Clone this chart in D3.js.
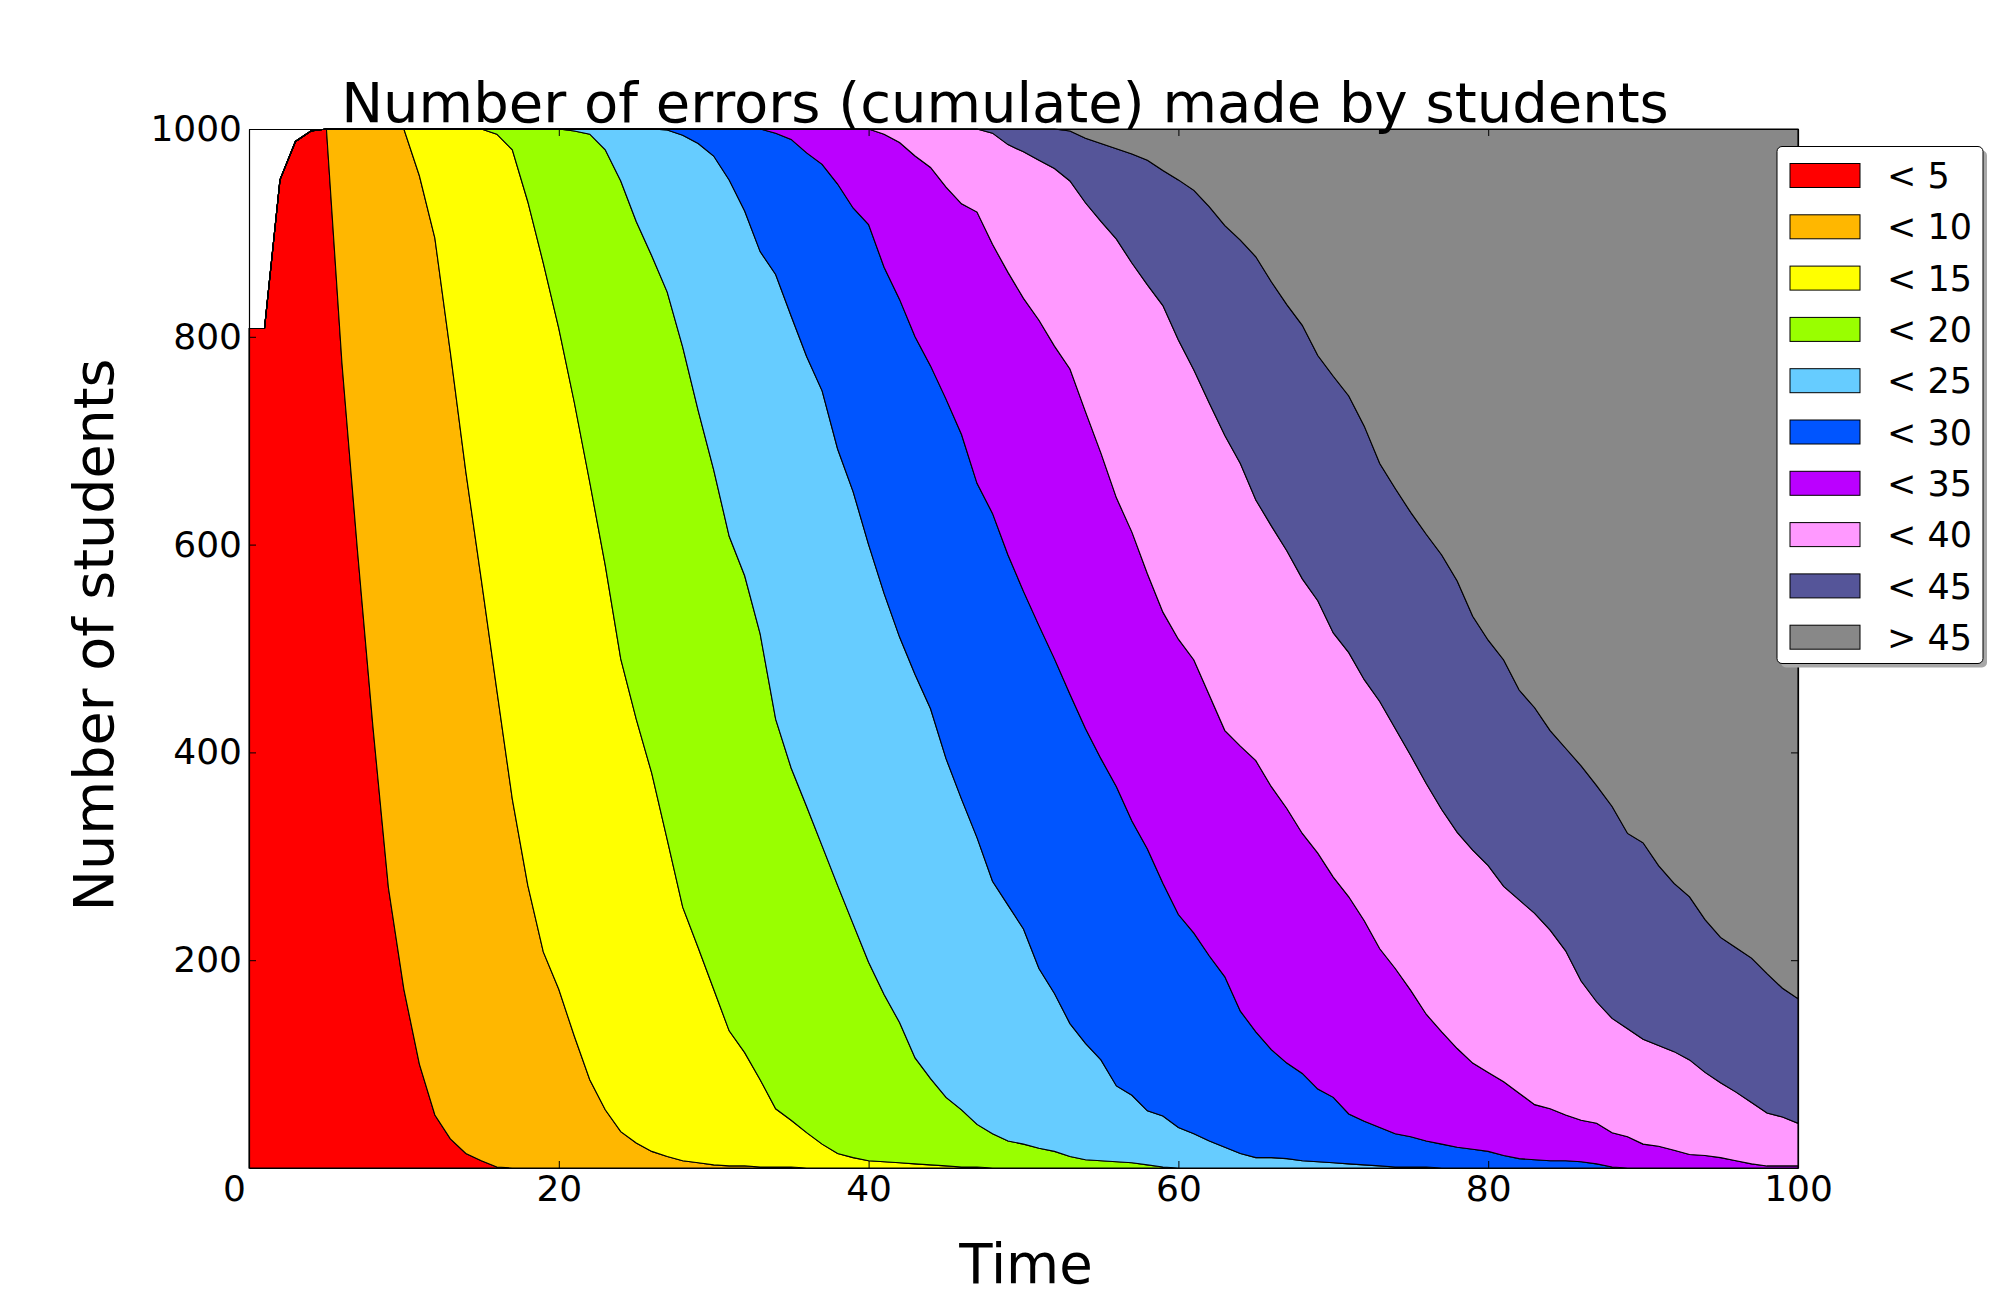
<!DOCTYPE html>
<html><head><meta charset="utf-8">
<script src="https://cdn.jsdelivr.net/npm/d3@7"></script>
<style>
body{margin:0;background:#fff;}
svg{display:block;font-family:"DejaVu Sans",sans-serif;}
</style>
</head><body>
<svg id="chart" width="2000" height="1300"></svg>
<script>
// ---------- DATA ----------
// time steps 0..100
const time = d3.range(0, 101);

const seriesLabels = ["< 5", "< 10", "< 15", "< 20", "< 25", "< 30", "< 35", "< 40", "< 45", "> 45"];
const seriesColors = ["#ff0000", "#ffb700", "#ffff00", "#99ff00", "#66ccff", "#0055ff", "#bb00ff", "#ff99ff", "#555599", "#888888"];

const xTicks = [0, 20, 40, 60, 80, 100];
const yTicks = [200, 400, 600, 800, 1000];

// total number of students observed at each time
const allStudents = [
 808,808,951,988,998,1000,1000,1000,1000,1000,
 1000,1000,1000,1000,1000,1000,1000,1000,1000,1000,
 1000,1000,1000,1000,1000,1000,1000,1000,1000,1000,
 1000,1000,1000,1000,1000,1000,1000,1000,1000,1000,
 1000,1000,1000,1000,1000,1000,1000,1000,1000,1000,
 1000,1000,1000,1000,1000,1000,1000,1000,1000,1000,
 1000,1000,1000,1000,1000,1000,1000,1000,1000,1000,
 1000,1000,1000,1000,1000,1000,1000,1000,1000,1000,
 1000,1000,1000,1000,1000,1000,1000,1000,1000,1000,
 1000,1000,1000,1000,1000,1000,1000,1000,1000,1000,
 1000];

// cumulative number of students with fewer than N errors
const lessThan5 = [
 808,808,951,988,998,1000,775,595,425,270,
 172,100,51,28,14,7,1,0,0,0,
 0,0,0,0,0,0,0,0,0,0,
 0,0,0,0,0,0,0,0,0,0,
 0,0,0,0,0,0,0,0,0,0,
 0,0,0,0,0,0,0,0,0,0,
 0,0,0,0,0,0,0,0,0,0,
 0,0,0,0,0,0,0,0,0,0,
 0,0,0,0,0,0,0,0,0,0,
 0,0,0,0,0,0,0,0,0,0,
 0];

const lessThan10 = [
 808,808,951,988,998,1000,1000,1000,1000,1000,
 1000,955,895,785,670,566,460,355,272,208,
 172,127,85,56,35,24,16,11,7,5,
 3,2,2,1,1,1,0,0,0,0,
 0,0,0,0,0,0,0,0,0,0,
 0,0,0,0,0,0,0,0,0,0,
 0,0,0,0,0,0,0,0,0,0,
 0,0,0,0,0,0,0,0,0,0,
 0,0,0,0,0,0,0,0,0,0,
 0,0,0,0,0,0,0,0,0,0,
 0];

const lessThan15 = [
 808,808,951,988,998,1000,1000,1000,1000,1000,
 1000,1000,1000,1000,1000,1000,995,980,930,871,
 808,737,660,580,490,432,380,316,251,212,
 172,132,111,85,57,46,34,23,14,10,
 7,6,5,4,3,2,1,1,0,0,
 0,0,0,0,0,0,0,0,0,0,
 0,0,0,0,0,0,0,0,0,0,
 0,0,0,0,0,0,0,0,0,0,
 0,0,0,0,0,0,0,0,0,0,
 0,0,0,0,0,0,0,0,0,0,
 0];

const lessThan20 = [
 808,808,951,988,998,1000,1000,1000,1000,1000,
 1000,1000,1000,1000,1000,1000,1000,1000,1000,1000,
 1000,998,995,980,950,911,878,843,790,729,
 672,608,570,514,432,385,348,310,272,235,
 198,167,140,106,86,68,56,42,33,26,
 23,19,16,11,8,7,6,5,3,1,
 0,0,0,0,0,0,0,0,0,0,
 0,0,0,0,0,0,0,0,0,0,
 0,0,0,0,0,0,0,0,0,0,
 0,0,0,0,0,0,0,0,0,0,
 0];

const lessThan25 = [
 808,808,951,988,998,1000,1000,1000,1000,1000,
 1000,1000,1000,1000,1000,1000,1000,1000,1000,1000,
 1000,1000,1000,1000,1000,1000,1000,999,994,986,
 974,951,921,882,860,820,781,748,692,651,
 600,553,511,475,442,394,355,318,276,253,
 230,192,168,139,120,104,79,70,55,50,
 39,33,26,20,14,10,10,9,7,6,
 5,4,3,2,1,1,1,0,0,0,
 0,0,0,0,0,0,0,0,0,0,
 0,0,0,0,0,0,0,0,0,0,
 0];

const lessThan30 = [
 808,808,951,988,998,1000,1000,1000,1000,1000,
 1000,1000,1000,1000,1000,1000,1000,1000,1000,1000,
 1000,1000,1000,1000,1000,1000,1000,1000,1000,1000,
 1000,1000,1000,1000,996,990,977,966,947,924,
 908,867,836,800,772,740,706,659,630,590,
 555,522,490,456,423,394,367,334,307,274,
 244,226,204,184,151,131,114,101,91,76,
 68,52,45,39,33,30,26,23,20,18,
 16,12,9,8,7,7,6,4,1,0,
 0,0,0,0,0,0,0,0,0,0,
 0];

const lessThan35 = [
 808,808,951,988,998,1000,1000,1000,1000,1000,
 1000,1000,1000,1000,1000,1000,1000,1000,1000,1000,
 1000,1000,1000,1000,1000,1000,1000,1000,1000,1000,
 1000,1000,1000,1000,1000,1000,1000,1000,1000,1000,
 1000,995,987,974,963,944,928,920,889,862,
 837,816,791,769,728,688,645,612,572,535,
 509,489,455,421,406,392,367,346,322,303,
 280,261,238,211,192,171,148,131,115,101,
 92,83,72,61,57,51,46,43,34,30,
 23,21,17,13,12,10,7,4,2,2,
 2];

const lessThan40 = [
 808,808,951,988,998,1000,1000,1000,1000,1000,
 1000,1000,1000,1000,1000,1000,1000,1000,1000,1000,
 1000,1000,1000,1000,1000,1000,1000,1000,1000,1000,
 1000,1000,1000,1000,1000,1000,1000,1000,1000,1000,
 1000,1000,1000,1000,1000,1000,1000,1000,996,985,
 978,970,962,950,929,911,894,871,850,830,
 797,768,736,705,678,643,618,594,567,546,
 515,496,470,449,423,397,370,345,323,306,
 291,271,258,245,229,209,180,160,144,134,
 124,118,112,104,92,82,73,63,53,49,
 43];

const lessThan45 = [
 808,808,951,988,998,1000,1000,1000,1000,1000,
 1000,1000,1000,1000,1000,1000,1000,1000,1000,1000,
 1000,1000,1000,1000,1000,1000,1000,1000,1000,1000,
 1000,1000,1000,1000,1000,1000,1000,1000,1000,1000,
 1000,1000,1000,1000,1000,1000,1000,1000,1000,1000,
 1000,1000,1000,998,991,986,981,976,970,960,
 951,941,925,907,893,877,853,831,811,782,
 762,743,714,678,654,631,610,590,565,531,
 508,489,460,443,421,404,387,368,348,322,
 313,291,274,261,239,222,212,202,187,173,
 163];

// ---------- CHART ----------
const svg = d3.select("#chart");
const margin = {left: 249, right: 1798, top: 129, bottom: 1168};

const x = d3.scaleLinear().domain([0, 100]).range([margin.left, margin.right]);
const y = d3.scaleLinear().domain([0, 1000]).range([margin.bottom, margin.top]);

const boundaries = [lessThan5, lessThan10, lessThan15, lessThan20, lessThan25,
                    lessThan30, lessThan35, lessThan40, lessThan45, allStudents];

const layers = boundaries.map((upper, k) =>
  time.map((t, i) => ({t: t, lo: k === 0 ? 0 : boundaries[k - 1][i], hi: upper[i]})));

const area = d3.area()
  .x(d => x(d.t))
  .y0(d => y(d.lo))
  .y1(d => y(d.hi));

svg.append("g").selectAll("path")
  .data(layers)
  .join("path")
  .attr("d", area)
  .attr("fill", (d, i) => seriesColors[i])
  .attr("stroke", "#000")
  .attr("stroke-width", 1.1)
  .attr("stroke-linejoin", "miter");

// axes
const fontTick = 36;
const fmt = d3.format("d");
const gx = svg.append("g")
  .attr("transform", `translate(0,${margin.bottom})`)
  .call(d3.axisBottom(x).tickValues(xTicks).tickFormat(fmt).tickSizeInner(-7).tickSizeOuter(0).tickPadding(7));
gx.selectAll("text").attr("font-size", fontTick).attr("fill", "#000")
  .attr("font-family", '"DejaVu Sans", sans-serif')
  .attr("dx", d => d === 0 ? -15 : 0);

const gy = svg.append("g")
  .attr("transform", `translate(${margin.left},0)`)
  .call(d3.axisLeft(y).tickValues(yTicks).tickFormat(fmt).tickSizeInner(-7).tickSizeOuter(0).tickPadding(7));
gy.selectAll("text").attr("font-size", fontTick).attr("fill", "#000")
  .attr("font-family", '"DejaVu Sans", sans-serif');

svg.append("g")
  .attr("transform", `translate(0,${margin.top})`)
  .call(d3.axisTop(x).tickValues(xTicks).tickSizeInner(-7).tickSizeOuter(0).tickFormat(""));

svg.append("g")
  .attr("transform", `translate(${margin.right},0)`)
  .call(d3.axisRight(y).tickValues(yTicks).tickSizeInner(-7).tickSizeOuter(0).tickFormat(""));

svg.selectAll(".domain").attr("stroke", "#000").attr("stroke-width", 1.2);
svg.selectAll(".tick line").attr("stroke", "#000").attr("stroke-width", 1);

// titles
svg.append("text")
  .attr("x", 1005).attr("y", 122)
  .attr("text-anchor", "middle")
  .attr("font-size", 56)
  .text("Number of errors (cumulate) made by students");

svg.append("text")
  .attr("x", 1026).attr("y", 1283)
  .attr("text-anchor", "middle")
  .attr("font-size", 54.5)
  .text("Time");

svg.append("text")
  .attr("transform", "translate(113,635) rotate(-90)")
  .attr("text-anchor", "middle")
  .attr("font-size", 55.5)
  .text("Number of students");

// legend
const legend = svg.append("g");
const lx = 1777, ly = 146.5, lw = 206, lh = 517;
legend.append("rect")
  .attr("x", lx + 4).attr("y", ly + 4).attr("width", lw).attr("height", lh)
  .attr("rx", 5).attr("fill", "#a8a8a8");
legend.append("rect")
  .attr("x", lx).attr("y", ly).attr("width", lw).attr("height", lh)
  .attr("rx", 5).attr("fill", "#fff").attr("stroke", "#000").attr("stroke-width", 1);

const entries = legend.selectAll("g.entry")
  .data(seriesLabels)
  .join("g")
  .attr("class", "entry")
  .attr("transform", (d, i) => `translate(0,${175.5 + i * 51.3})`);
entries.append("rect")
  .attr("x", 1790).attr("y", -12).attr("width", 70).attr("height", 24)
  .attr("fill", (d, i) => seriesColors[i])
  .attr("stroke", "#000").attr("stroke-width", 1);
entries.append("text")
  .attr("x", 1887).attr("y", 0).attr("dy", "0.36em")
  .attr("font-size", 35)
  .text(d => d);
</script>
</body></html>
